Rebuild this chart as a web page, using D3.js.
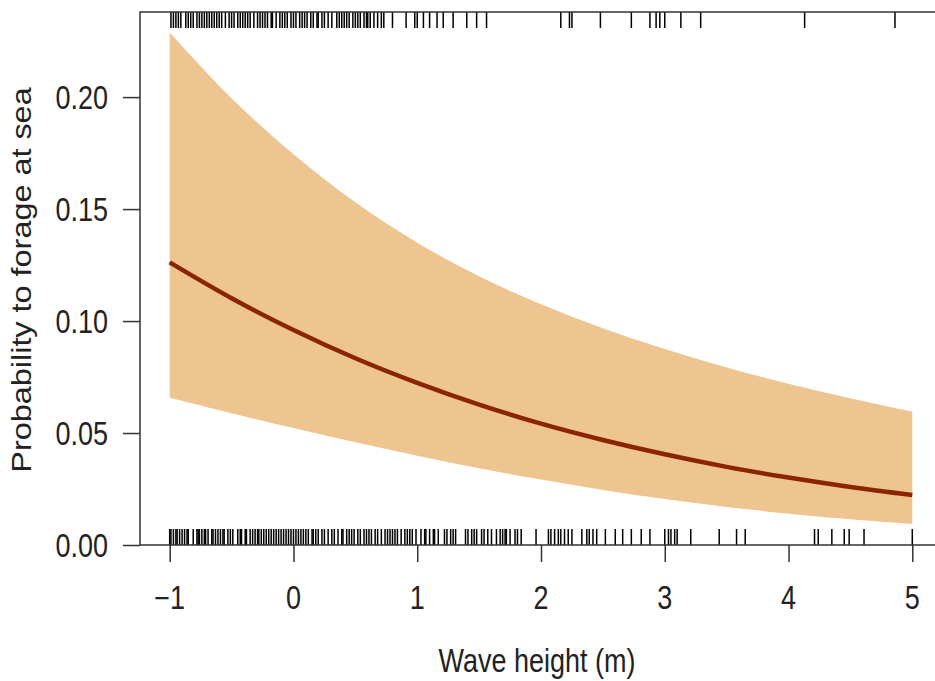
<!DOCTYPE html>
<html>
<head>
<meta charset="utf-8">
<script src="https://cdn.jsdelivr.net/npm/d3@7"></script>
<style>
  body { margin: 0; background: #fff; }
  text { font-family: "Liberation Sans", Arial, sans-serif; fill: #222; font-size: 27px; }
</style>
</head>
<body>
<div id="chart"></div>
<script>
const waveX = [-1, -0.5, 0, 0.5, 1, 1.5, 2, 2.5, 3, 3.5, 4, 4.5, 5];
// fitted probability and its confidence band
const fitP = [0.1262, 0.1102, 0.0960, 0.0834, 0.0724, 0.0627, 0.0542, 0.0469, 0.0405, 0.0349, 0.0301, 0.0259, 0.0223];
const lowerP = [0.0657, 0.0588, 0.0522, 0.0459, 0.0399, 0.0343, 0.0292, 0.0246, 0.0205, 0.0170, 0.0140, 0.0115, 0.0094];
const upperP = [0.2288, 0.1995, 0.1745, 0.1530, 0.1350, 0.1200, 0.1075, 0.0968, 0.0875, 0.0793, 0.0720, 0.0655, 0.0595];

// observations: not foraging at sea (bottom rug) and foraging at sea (top rug)
const rugBottom = [-1.00, -0.99, -0.97, -0.95, -0.94, -0.92, -0.90, -0.88, -0.86, -0.85, -0.81, -0.78, -0.77,
  -0.76, -0.74, -0.72, -0.71, -0.69, -0.66, -0.65, -0.63, -0.61, -0.59, -0.57, -0.56, -0.53, -0.51, -0.49,
  -0.45, -0.43, -0.42, -0.39, -0.38, -0.35, -0.33, -0.31, -0.29, -0.28, -0.26, -0.24, -0.22, -0.20, -0.18,
  -0.16, -0.14, -0.12, -0.10, -0.08, -0.06, -0.04, -0.02, 0.00, 0.02, 0.04, 0.06, 0.08, 0.10, 0.12, 0.15,
  0.16, 0.18, 0.20, 0.23, 0.25, 0.28, 0.31, 0.33, 0.36, 0.39, 0.40, 0.43, 0.45, 0.47, 0.49, 0.52, 0.54,
  0.57, 0.59, 0.61, 0.63, 0.66, 0.68, 0.71, 0.74, 0.76, 0.78, 0.80, 0.82, 0.84, 0.87, 0.90, 0.92, 0.94,
  0.96, 0.99, 1.03, 1.06, 1.07, 1.10, 1.13, 1.14, 1.17, 1.22, 1.24, 1.27, 1.29, 1.31, 1.39, 1.41, 1.44,
  1.46, 1.48, 1.52, 1.54, 1.57, 1.60, 1.64, 1.67, 1.69, 1.71, 1.72, 1.75, 1.79, 1.81, 1.84, 1.96, 2.06,
  2.08, 2.11, 2.14, 2.16, 2.19, 2.22, 2.25, 2.33, 2.37, 2.39, 2.42, 2.45, 2.52, 2.60, 2.66, 2.73, 2.81,
  2.88, 3.00, 3.03, 3.05, 3.08, 3.10, 3.21, 3.44, 3.58, 3.65, 4.21, 4.24, 4.35, 4.45, 4.49, 4.61, 5.00];
const rugTop = [-0.99, -0.97, -0.95, -0.93, -0.91, -0.87, -0.85, -0.83, -0.81, -0.78, -0.76, -0.74, -0.72,
  -0.70, -0.68, -0.66, -0.64, -0.62, -0.60, -0.58, -0.55, -0.52, -0.50, -0.48, -0.45, -0.43, -0.41, -0.39,
  -0.37, -0.35, -0.32, -0.29, -0.27, -0.25, -0.23, -0.21, -0.18, -0.17, -0.14, -0.11, -0.09, -0.07, -0.05,
  -0.02, 0.00, 0.02, 0.05, 0.07, 0.09, 0.11, 0.14, 0.16, 0.19, 0.20, 0.23, 0.25, 0.28, 0.31, 0.35, 0.37,
  0.39, 0.41, 0.43, 0.45, 0.48, 0.50, 0.52, 0.54, 0.57, 0.59, 0.60, 0.62, 0.65, 0.68, 0.71, 0.73, 0.80,
  0.91, 0.98, 1.00, 1.05, 1.10, 1.16, 1.21, 1.29, 1.40, 1.48, 1.56, 2.16, 2.23, 2.25, 2.48, 2.73, 2.88,
  2.93, 2.96, 3.00, 3.13, 3.29, 4.13, 4.86];

const xTicks = [-1, 0, 1, 2, 3, 4, 5];
const yTicks = [0, 0.05, 0.10, 0.15, 0.20];

const width = 935;
const height = 681;
const plot = { left: 140, top: 12, bottom: 545 };
const stretch = 1.2;  // the picture's text is taller than it is wide

const svg = d3.select("#chart")
  .append("svg")
  .attr("width", width)
  .attr("height", height);

// R style: 4% padding on x, y starting exactly at 0
const x = d3.scaleLinear().domain([-1.24, 5.24]).range([plot.left, 942]);
const y = d3.scaleLinear().domain([0, 0.238]).range([plot.bottom, plot.top]);

const rows = waveX.map((w, i) => ({ w: w, p: fitP[i], lo: lowerP[i], hi: upperP[i] }));

// confidence band
svg.append("path")
  .datum(rows)
  .attr("fill", "#eec591")
  .attr("d", d3.area()
    .x(d => x(d.w))
    .y0(d => y(d.lo))
    .y1(d => y(d.hi))
    .curve(d3.curveCatmullRom));

// fitted line
svg.append("path")
  .datum(rows)
  .attr("fill", "none")
  .attr("stroke", "#8b2500")
  .attr("stroke-width", 4.5)
  .attr("d", d3.line()
    .x(d => x(d.w))
    .y(d => y(d.p))
    .curve(d3.curveCatmullRom));

// rugs
const rugLen = 16;
svg.append("g").selectAll("line")
  .data(rugBottom)
  .enter()
  .append("line")
  .attr("x1", d => x(d)).attr("x2", d => x(d))
  .attr("y1", plot.bottom).attr("y2", plot.bottom - rugLen)
  .attr("stroke", "#000").attr("stroke-width", 1.5);

svg.append("g").selectAll("line")
  .data(rugTop)
  .enter()
  .append("line")
  .attr("x1", d => x(d)).attr("x2", d => x(d))
  .attr("y1", plot.top).attr("y2", plot.top + rugLen)
  .attr("stroke", "#000").attr("stroke-width", 1.5);

// box (right side falls outside the picture)
svg.append("path")
  .attr("d", `M${width + 5},${plot.top}H${plot.left}V${plot.bottom}H${width + 5}`)
  .attr("fill", "none")
  .attr("stroke", "#333")
  .attr("stroke-width", 1.5);

// axes: ticks from d3, labels drawn below so they can be stretched
const xAxis = svg.append("g")
  .attr("transform", `translate(0,${plot.bottom})`)
  .call(d3.axisBottom(x).tickValues(xTicks).tickSize(17).tickFormat(""));

const yAxis = svg.append("g")
  .attr("transform", `translate(${plot.left},0)`)
  .call(d3.axisLeft(y).tickValues(yTicks).tickSize(17).tickFormat(""));

[xAxis, yAxis].forEach(g => {
  g.select(".domain").remove();
  g.selectAll(".tick line").attr("stroke", "#333").attr("stroke-width", 1.5);
});

const fmtX = d3.format("d");
const fmtY = d3.format(".2f");

svg.append("g").selectAll("text")
  .data(xTicks)
  .enter()
  .append("text")
  .attr("transform", d => `translate(${x(d)},597) scale(1,${stretch})`)
  .attr("dy", "0.36em")
  .attr("text-anchor", "middle")
  .text(d => fmtX(d));

svg.append("g").selectAll("text")
  .data(yTicks)
  .enter()
  .append("text")
  .attr("transform", d => `translate(108,${y(d)}) scale(1,${stretch})`)
  .attr("dy", "0.36em")
  .attr("text-anchor", "end")
  .text(d => fmtY(d));

// axis titles
svg.append("text")
  .attr("transform", `translate(537,660) scale(1,${stretch})`)
  .attr("dy", "0.36em")
  .attr("text-anchor", "middle")
  .text("Wave height (m)");

svg.append("text")
  .attr("transform", `translate(21,280) scale(1,${stretch}) rotate(-90)`)
  .attr("dy", "0.36em")
  .attr("text-anchor", "middle")
  .text("Probability to forage at sea");
</script>
</body>
</html>
